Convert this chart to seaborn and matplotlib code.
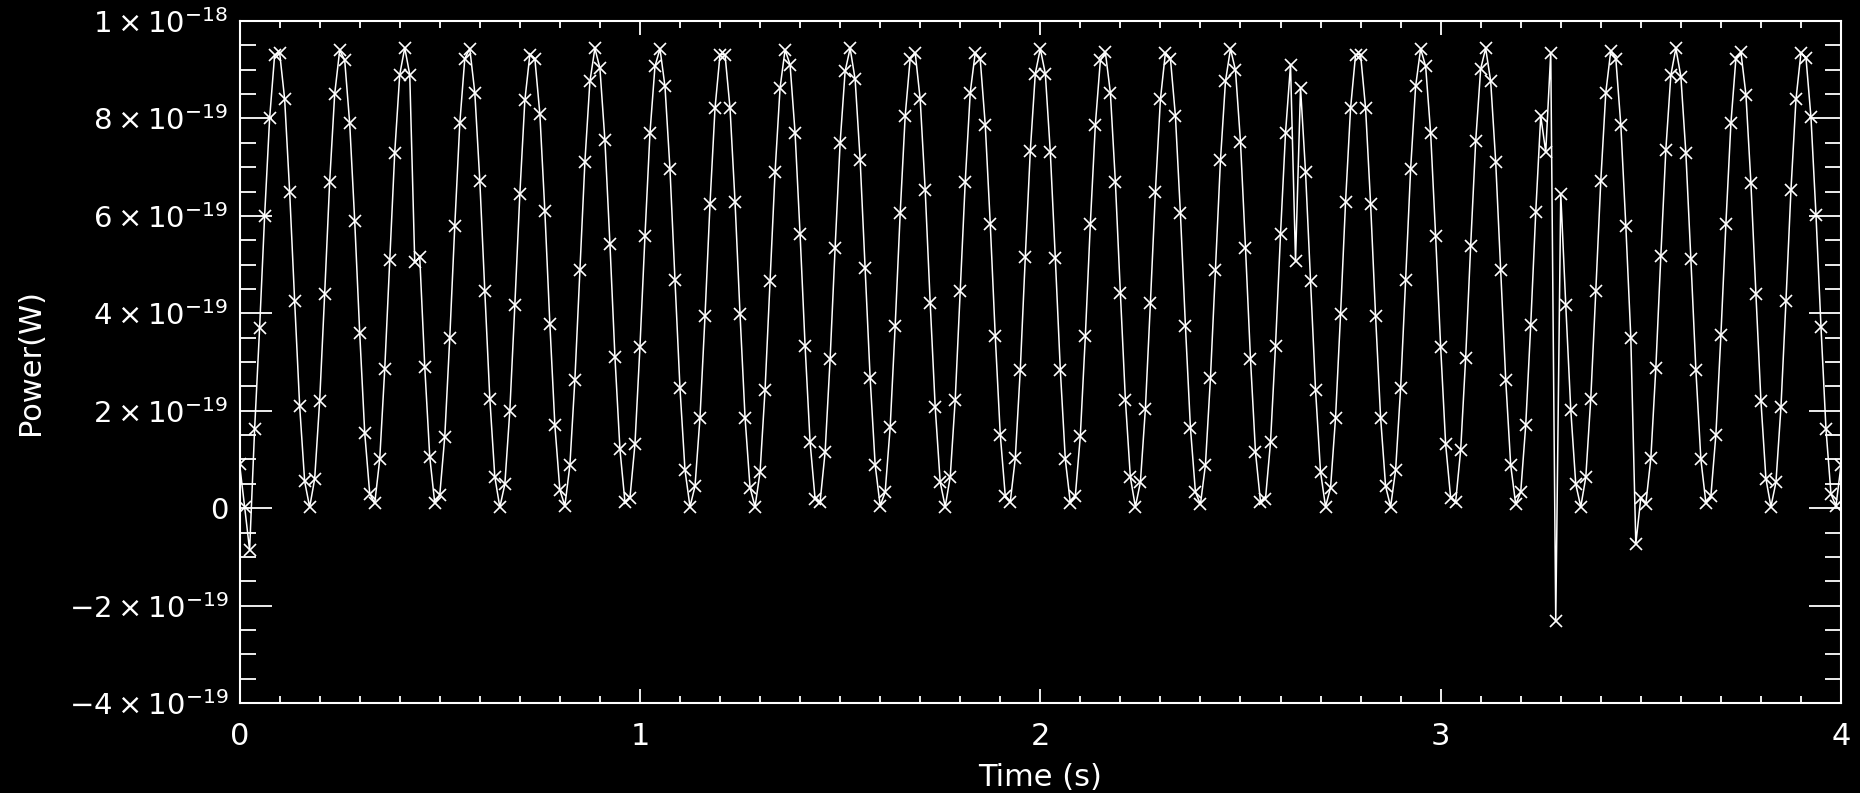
import numpy as np
import matplotlib
matplotlib.use("Agg")
import matplotlib.pyplot as plt
import seaborn as sns
from matplotlib.ticker import MultipleLocator, FixedLocator, FixedFormatter

# ---- data ----
sample_interval = 0.0125  # seconds between samples
# power values in units of 1e-19 W, one per sample
power_e19 = [
    0.9, 0.03, -0.86, 1.62, 3.7, 6.0, 8.0, 9.3, 9.35, 8.4,
    6.5, 4.25, 2.1, 0.55, 0.02, 0.6, 2.2, 4.4, 6.7, 8.5,
    9.4, 9.2, 7.9, 5.9, 3.6, 1.55, 0.3, 0.1, 1.0, 2.85,
    5.1, 7.3, 8.9, 9.45, 8.9, 5.05, 5.15, 2.9, 1.05, 0.1,
    0.27, 1.47, 3.5, 5.8, 7.9, 9.23, 9.43, 8.53, 6.72, 4.45,
    2.25, 0.64, 0.02, 0.49, 2.0, 4.17, 6.45, 8.37, 9.31, 9.23,
    8.09, 6.09, 3.78, 1.7, 0.37, 0.05, 0.88, 2.64, 4.88, 7.11,
    8.76, 9.44, 9.03, 7.55, 5.43, 3.11, 1.21, 0.13, 0.21, 1.31,
    3.31, 5.58, 7.7, 9.07, 9.43, 8.66, 6.96, 4.68, 2.46, 0.78,
    0.03, 0.45, 1.86, 3.94, 6.25, 8.21, 9.31, 9.31, 8.21, 6.29,
    3.98, 1.86, 0.42, 0.03, 0.74, 2.43, 4.66, 6.9, 8.63, 9.41,
    9.1, 7.7, 5.62, 3.33, 1.35, 0.19, 0.13, 1.15, 3.06, 5.35,
    7.5, 8.97, 9.44, 8.8, 7.15, 4.92, 2.67, 0.89, 0.05, 0.33,
    1.66, 3.74, 6.05, 8.05, 9.23, 9.35, 8.39, 6.53, 4.21, 2.07,
    0.53, 0.03, 0.64, 2.23, 4.45, 6.7, 8.53, 9.35, 9.21, 7.87,
    5.84, 3.53, 1.51, 0.25, 0.13, 1.02, 2.84, 5.15, 7.33, 8.92,
    9.43, 8.92, 7.31, 5.13, 2.84, 1.0, 0.11, 0.25, 1.49, 3.53,
    5.84, 7.87, 9.19, 9.36, 8.53, 6.7, 4.42, 2.23, 0.63, 0.03,
    0.53, 2.04, 4.21, 6.5, 8.39, 9.35, 9.23, 8.05, 6.05, 3.74,
    1.65, 0.33, 0.08, 0.89, 2.67, 4.89, 7.14, 8.76, 9.43, 8.99,
    7.52, 5.35, 3.06, 1.15, 0.13, 0.19, 1.35, 3.33, 5.62, 7.7,
    9.1, 5.07, 8.63, 6.9, 4.66, 2.43, 0.74, 0.03, 0.42, 1.86,
    3.98, 6.29, 8.21, 9.31, 9.31, 8.21, 6.25, 3.94, 1.86, 0.45,
    0.03, 0.78, 2.46, 4.68, 6.96, 8.66, 9.43, 9.07, 7.7, 5.58,
    3.31, 1.31, 0.21, 0.13, 1.19, 3.09, 5.39, 7.53, 9.02, 9.44,
    8.76, 7.11, 4.88, 2.64, 0.88, 0.08, 0.33, 1.70, 3.76, 6.07,
    8.05, 7.31, 9.35, -2.32, 6.45, 4.17, 2.02, 0.49, 0.03, 0.63,
    2.25, 4.45, 6.72, 8.53, 9.39, 9.23, 7.87, 5.8, 3.5, -0.73,
    0.21, 0.09, 1.02, 2.88, 5.18, 7.36, 8.89, 9.44, 8.86, 7.29,
    5.11, 2.84, 1.0, 0.11, 0.25, 1.51, 3.55, 5.84, 7.9, 9.23,
    9.36, 8.49, 6.67, 4.39, 2.2, 0.6, 0.03, 0.53, 2.07, 4.25,
    6.53, 8.39, 9.35, 9.25, 8.02, 6.02, 3.72, 1.62, 0.29, 0.05,
    0.88,
]
x_ticks = [0, 1, 2, 3, 4]
x_tick_labels = ["0", "1", "2", "3", "4"]
y_ticks = [-4e-19, -2e-19, 0, 2e-19, 4e-19, 6e-19, 8e-19, 1e-18]
y_tick_labels = [r"$-4\times10^{-19}$", r"$-2\times10^{-19}$", "0",
                 r"$2\times10^{-19}$", r"$4\times10^{-19}$", r"$6\times10^{-19}$",
                 r"$8\times10^{-19}$", r"$1\times10^{-18}$"]
x_label = "Time (s)"
y_label = "Power(W)"

time_s = np.arange(len(power_e19)) * sample_interval
power_w = np.array(power_e19) * 1e-19

# ---- style ----
sns.set_theme(style="ticks")
plt.rcParams.update({
    "figure.facecolor": "black",
    "axes.facecolor": "black",
    "savefig.facecolor": "black",
    "axes.edgecolor": "white",
    "xtick.color": "white",
    "ytick.color": "white",
    "text.color": "white",
    "axes.labelcolor": "white",
    "mathtext.fontset": "dejavusans",
})
plt.rcParams["font.family"] = ["DejaVu Sans"]

fig = plt.figure(figsize=(18.6, 7.93), dpi=100)
ax = fig.add_axes([239.6 / 1860, (793 - 703) / 793, (1841 - 239.6) / 1860, (703 - 21) / 793])

sns.lineplot(x=time_s, y=power_w, ax=ax, color="white", linewidth=1.1,
             marker="x", markersize=9, markeredgewidth=1.2,
             markeredgecolor="white", estimator=None, sort=False)

ax.set_xlim(0, 4)
ax.set_ylim(-4e-19, 1e-18)

ax.xaxis.set_major_locator(FixedLocator(x_ticks))
ax.xaxis.set_major_formatter(FixedFormatter(x_tick_labels))
ax.xaxis.set_minor_locator(MultipleLocator(0.1))
ax.yaxis.set_major_locator(FixedLocator(y_ticks))
ax.yaxis.set_major_formatter(FixedFormatter(y_tick_labels))
ax.yaxis.set_minor_locator(MultipleLocator(0.5e-19))

for s in ax.spines.values():
    s.set_color("white")
    s.set_linewidth(1.5)

ax.tick_params(which="both", direction="in", top=True, right=True, width=1.3, color="white")
ax.tick_params(axis="y", which="major", length=23, labelsize=21, pad=8)
ax.tick_params(axis="y", which="minor", length=11.5)
ax.tick_params(axis="x", which="major", length=9.8, labelsize=22, pad=14)
ax.tick_params(axis="x", which="minor", length=4.9)

ax.set_xlabel(x_label, fontsize=22)
ax.set_ylabel(y_label, fontsize=22)
ax.xaxis.label.set_va("center")
ax.xaxis.set_label_coords(0.5, -(777 - 703) / 682)
ax.yaxis.label.set_va("center")
ax.yaxis.set_label_coords(-(239.6 - 30) / 1601.4, 0.5)

fig.savefig("out.png", dpi=100, facecolor="black")
